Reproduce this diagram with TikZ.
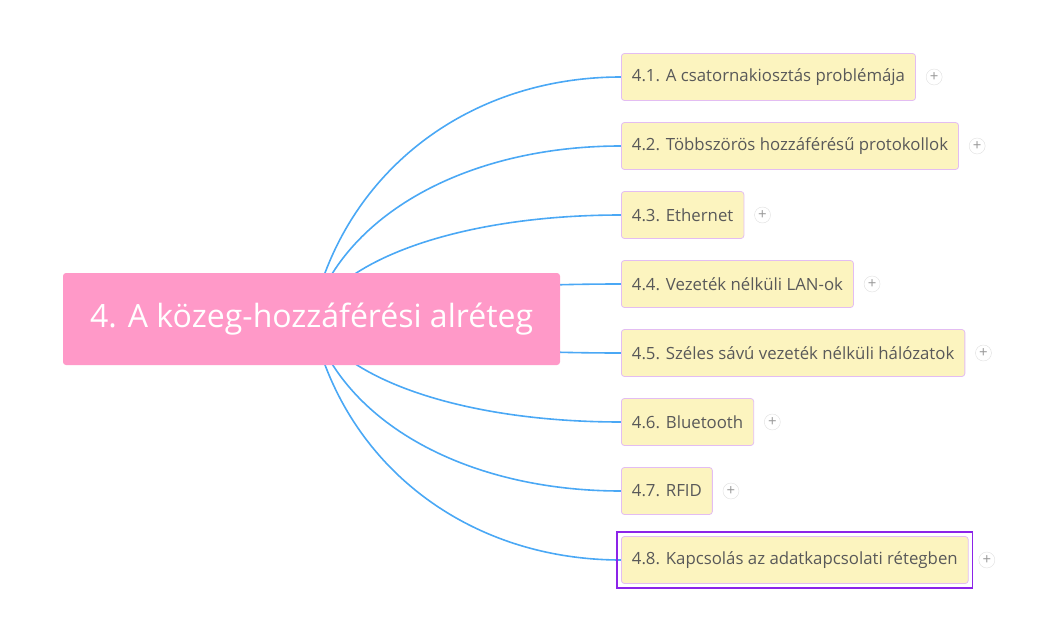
\documentclass[tikz,border=0pt]{standalone}
\usepackage{fontspec}
\setmainfont{Open Sans}
\usetikzlibrary{backgrounds, calc, positioning}
\definecolor{rootpink}{HTML}{FF99C8}
\definecolor{topicfill}{HTML}{FCF4BF}
\definecolor{topicline}{HTML}{E3BDF2}
\definecolor{topictext}{HTML}{595959}
\definecolor{branchblue}{HTML}{4AA8F5}
\definecolor{selectpurple}{HTML}{8C24E8}
\tikzset{
  root/.style={
    rectangle, rounded corners=3pt, minimum width=497pt, minimum height=92pt,
    text centered, fill=rootpink, text=white, font=\fontsize{32}{38}\selectfont
  },
  topic/.style={
    rectangle, rounded corners=3pt, minimum height=47pt, inner xsep=10.5pt,
    anchor=west, draw=topicline, line width=0.8pt, fill=topicfill,
    text=topictext, font=\fontsize{16.8}{20}\selectfont
  },
  plus/.style={
    circle, minimum size=16pt, inner sep=0pt, fill=white, draw=gray!25,
    text=gray!80, font=\fontsize{15}{15}\selectfont
  },
  branch/.style={
    line width=1.6pt, color=branchblue
  }
}

\begin{document}
\begin{tikzpicture}[x=1pt, y=-1pt]
\useasboundingbox (0,0) rectangle (1042,642);

% central topic
\node[root] (root) at (311.5,319) {4. A közeg-hozzáférési alréteg};

% subtopics
\node[topic] (t1) at (621,77) {4.1. A csatornakiosztás problémája};
\node[topic] (t2) at (621,146) {4.2. Többszörös hozzáférésű protokollok};
\node[topic] (t3) at (621,215) {4.3. Ethernet};
\node[topic] (t4) at (621,284) {4.4. Vezeték nélküli LAN-ok};
\node[topic] (t5) at (621,353) {4.5. Széles sávú vezeték nélküli hálózatok};
\node[topic] (t6) at (621,422) {4.6. Bluetooth};
\node[topic] (t7) at (621,491) {4.7. RFID};
\node[topic] (t8) at (621,560) {4.8. Kapcsolás az adatkapcsolati rétegben};

% selection frame
\draw[selectpurple, line width=1.6pt] ($(t8.south west)+(-4,4)$) rectangle ($(t8.north east)+(4,-4)$);

% expand buttons
\foreach \i in {1,...,8}
  \node[plus, right=10pt of t\i.east] (p\i) {+};

% branches
\begin{scope}[on background layer]
\foreach \i in {1,...,8}
  \draw[branch] let \p1=(root.center), \p2=(t\i.west) in
    (\p1) .. controls ({0.9*\x1+0.1*\x2}, {0.4*\y1+0.6*\y2}) and ({0.5*\x1+0.5*\x2}, \y2) .. (\p2);
\end{scope}
\end{tikzpicture}
\end{document}
